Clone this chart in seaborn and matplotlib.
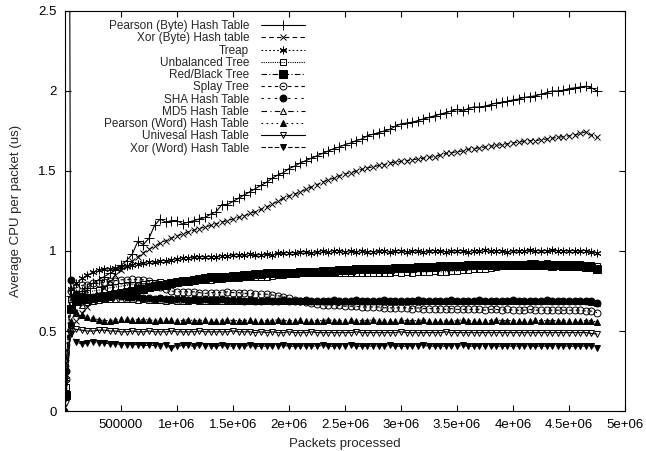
import numpy as np
import pandas as pd
import matplotlib
matplotlib.use("Agg")
import matplotlib.pyplot as plt
import seaborn as sns

# x positions: one early sample, then every 50000 packets
packets = [5000] + list(range(50000, 4750001, 50000))

pearson_byte = [12.0,
    0.72, 0.73, 0.75, 0.77, 0.80, 0.82, 0.84, 0.86, 0.88, 0.91,
    0.94, 0.98, 1.06, 1.04, 1.08, 1.16, 1.20, 1.18, 1.19, 1.19,
    1.17, 1.18, 1.19, 1.20, 1.21, 1.23, 1.245, 1.29, 1.29, 1.31,
    1.33, 1.35, 1.37, 1.39, 1.41, 1.43, 1.455, 1.475, 1.49, 1.515,
    1.53, 1.55, 1.565, 1.58, 1.595, 1.61, 1.625, 1.64, 1.65, 1.665,
    1.675, 1.69, 1.70, 1.72, 1.73, 1.74, 1.75, 1.76, 1.78, 1.795,
    1.80, 1.805, 1.815, 1.825, 1.835, 1.845, 1.855, 1.865, 1.875, 1.885,
    1.875, 1.89, 1.90, 1.90, 1.905, 1.915, 1.925, 1.93, 1.935, 1.945,
    1.95, 1.96, 1.965, 1.97, 1.98, 1.99, 2.00, 2.00, 2.005, 2.015,
    2.02, 2.025, 2.03, 2.02, 2.00]

xor_byte = [0.3,
    0.52, 0.56, 0.61, 0.65, 0.69, 0.73, 0.77, 0.81, 0.85, 0.88,
    0.905, 0.935, 0.965, 0.99, 1.01, 1.03, 1.05, 1.065, 1.08, 1.095,
    1.105, 1.12, 1.13, 1.14, 1.15, 1.16, 1.17, 1.18, 1.19, 1.20,
    1.21, 1.22, 1.235, 1.245, 1.26, 1.275, 1.295, 1.31, 1.33, 1.345,
    1.355, 1.37, 1.385, 1.40, 1.415, 1.43, 1.445, 1.455, 1.47, 1.48,
    1.49, 1.50, 1.51, 1.52, 1.525, 1.535, 1.54, 1.55, 1.555, 1.56,
    1.565, 1.57, 1.575, 1.58, 1.585, 1.59, 1.60, 1.61, 1.615, 1.62,
    1.625, 1.635, 1.64, 1.645, 1.65, 1.655, 1.66, 1.665, 1.67, 1.675,
    1.68, 1.685, 1.69, 1.69, 1.695, 1.70, 1.705, 1.71, 1.715, 1.72,
    1.725, 1.735, 1.745, 1.725, 1.71]

treap = [0.2,
    0.76, 0.80, 0.83, 0.85, 0.87, 0.88, 0.885, 0.89, 0.895, 0.90,
    0.905, 0.915, 0.92, 0.925, 0.93, 0.93, 0.935, 0.94, 0.945, 0.95,
    0.955, 0.955, 0.96, 0.96, 0.965, 0.965, 0.965, 0.97, 0.97, 0.975,
    0.975, 0.975, 0.98, 0.975, 0.975, 0.98, 0.975, 0.985, 0.985, 0.99,
    0.99, 0.995, 0.995, 0.99, 0.995, 1.0, 0.995, 1.0, 1.0, 0.995,
    1.0, 0.995, 1.0, 0.995, 0.995, 1.0, 1.0, 0.995, 1.0, 1.0,
    0.995, 1.0, 1.0, 0.995, 1.0, 1.0, 1.0, 0.995, 1.0, 1.0,
    1.0, 0.995, 1.0, 1.0, 1.005, 1.0, 1.0, 1.0, 0.995, 1.0,
    1.0, 1.0, 1.005, 1.0, 1.0, 1.0, 1.005, 1.0, 1.0, 1.0,
    1.0, 1.0, 1.0, 0.995, 0.985]

unbalanced = [0.15,
    0.70, 0.72, 0.73, 0.74, 0.75, 0.755, 0.76, 0.77, 0.775, 0.78,
    0.785, 0.79, 0.79, 0.795, 0.80, 0.80, 0.805, 0.80, 0.805, 0.81,
    0.81, 0.81, 0.815, 0.82, 0.82, 0.82, 0.825, 0.825, 0.83, 0.83,
    0.83, 0.835, 0.835, 0.84, 0.835, 0.84, 0.845, 0.85, 0.85, 0.855,
    0.855, 0.86, 0.86, 0.865, 0.86, 0.86, 0.865, 0.86, 0.86, 0.865,
    0.86, 0.865, 0.86, 0.865, 0.865, 0.86, 0.865, 0.865, 0.87, 0.865,
    0.87, 0.865, 0.87, 0.87, 0.87, 0.875, 0.87, 0.87, 0.875, 0.875,
    0.88, 0.88, 0.885, 0.89, 0.89, 0.895, 0.90, 0.905, 0.91, 0.91,
    0.915, 0.92, 0.925, 0.925, 0.92, 0.925, 0.92, 0.92, 0.92, 0.92,
    0.92, 0.92, 0.915, 0.915, 0.905]

red_black = [0.1,
    0.64, 0.69, 0.70, 0.70, 0.705, 0.71, 0.715, 0.72, 0.73, 0.735,
    0.745, 0.75, 0.76, 0.765, 0.775, 0.78, 0.785, 0.79, 0.80, 0.805,
    0.81, 0.815, 0.82, 0.825, 0.83, 0.835, 0.835, 0.84, 0.84, 0.845,
    0.845, 0.85, 0.85, 0.855, 0.855, 0.86, 0.86, 0.86, 0.865, 0.865,
    0.865, 0.87, 0.87, 0.87, 0.87, 0.875, 0.875, 0.875, 0.88, 0.88,
    0.88, 0.885, 0.885, 0.885, 0.89, 0.89, 0.89, 0.89, 0.895, 0.895,
    0.895, 0.895, 0.90, 0.90, 0.90, 0.90, 0.905, 0.905, 0.905, 0.905,
    0.905, 0.91, 0.91, 0.91, 0.91, 0.91, 0.91, 0.91, 0.915, 0.91,
    0.91, 0.915, 0.91, 0.91, 0.91, 0.91, 0.905, 0.91, 0.905, 0.905,
    0.905, 0.905, 0.90, 0.90, 0.89]

splay = [0.2,
    0.75, 0.77, 0.785, 0.79, 0.80, 0.80, 0.805, 0.81, 0.815, 0.82,
    0.82, 0.825, 0.82, 0.82, 0.81, 0.79, 0.775, 0.765, 0.75, 0.745,
    0.745, 0.745, 0.745, 0.74, 0.735, 0.74, 0.74, 0.74, 0.745, 0.74,
    0.74, 0.735, 0.735, 0.73, 0.73, 0.73, 0.725, 0.72, 0.715, 0.705,
    0.695, 0.685, 0.68, 0.675, 0.67, 0.665, 0.665, 0.66, 0.66, 0.655,
    0.655, 0.655, 0.65, 0.65, 0.65, 0.65, 0.645, 0.645, 0.645, 0.645,
    0.645, 0.64, 0.645, 0.64, 0.64, 0.64, 0.64, 0.635, 0.64, 0.635,
    0.635, 0.635, 0.635, 0.635, 0.63, 0.635, 0.635, 0.63, 0.635, 0.63,
    0.63, 0.63, 0.635, 0.63, 0.63, 0.63, 0.63, 0.63, 0.63, 0.63,
    0.63, 0.63, 0.625, 0.625, 0.615]

sha = [0.25,
    0.82, 0.73, 0.72, 0.715, 0.71, 0.715, 0.72, 0.72, 0.725, 0.72,
    0.715, 0.71, 0.71, 0.705, 0.705, 0.70, 0.705, 0.70, 0.70, 0.70,
    0.70, 0.695, 0.70, 0.695, 0.70, 0.695, 0.695, 0.70, 0.695, 0.695,
    0.695, 0.69, 0.695, 0.69, 0.69, 0.695, 0.69, 0.69, 0.695, 0.69,
    0.69, 0.69, 0.695, 0.69, 0.69, 0.69, 0.69, 0.695, 0.69, 0.69,
    0.69, 0.695, 0.69, 0.69, 0.69, 0.69, 0.695, 0.69, 0.69, 0.69,
    0.69, 0.69, 0.695, 0.69, 0.69, 0.69, 0.69, 0.69, 0.695, 0.69,
    0.69, 0.69, 0.69, 0.695, 0.69, 0.69, 0.69, 0.69, 0.69, 0.695,
    0.69, 0.69, 0.69, 0.69, 0.69, 0.695, 0.69, 0.69, 0.69, 0.69,
    0.69, 0.69, 0.69, 0.685, 0.675]

md5 = [0.0,
    0.56, 0.62, 0.66, 0.68, 0.69, 0.695, 0.70, 0.70, 0.70, 0.70,
    0.70, 0.70, 0.695, 0.70, 0.695, 0.695, 0.695, 0.69, 0.695, 0.69,
    0.69, 0.69, 0.695, 0.69, 0.69, 0.69, 0.685, 0.69, 0.69, 0.69,
    0.69, 0.685, 0.69, 0.69, 0.685, 0.69, 0.69, 0.685, 0.69, 0.685,
    0.685, 0.69, 0.685, 0.685, 0.69, 0.685, 0.685, 0.685, 0.69, 0.685,
    0.685, 0.685, 0.69, 0.685, 0.685, 0.685, 0.685, 0.69, 0.685, 0.685,
    0.685, 0.685, 0.685, 0.69, 0.685, 0.685, 0.685, 0.685, 0.685, 0.69,
    0.685, 0.685, 0.685, 0.685, 0.685, 0.69, 0.685, 0.685, 0.685, 0.685,
    0.685, 0.685, 0.69, 0.685, 0.685, 0.685, 0.685, 0.685, 0.685, 0.685,
    0.685, 0.685, 0.685, 0.68, 0.675]

pearson_word = [0.0,
    0.55, 0.61, 0.60, 0.59, 0.58, 0.57, 0.565, 0.565, 0.57, 0.575,
    0.575, 0.57, 0.57, 0.57, 0.57, 0.565, 0.57, 0.57, 0.57, 0.565,
    0.565, 0.57, 0.565, 0.565, 0.57, 0.565, 0.565, 0.565, 0.57, 0.565,
    0.565, 0.565, 0.57, 0.565, 0.565, 0.565, 0.565, 0.57, 0.565, 0.565,
    0.565, 0.57, 0.565, 0.565, 0.565, 0.565, 0.57, 0.565, 0.565, 0.565,
    0.57, 0.565, 0.565, 0.565, 0.57, 0.565, 0.565, 0.565, 0.565, 0.57,
    0.565, 0.565, 0.565, 0.57, 0.565, 0.565, 0.565, 0.565, 0.56, 0.565,
    0.57, 0.565, 0.565, 0.565, 0.565, 0.565, 0.57, 0.565, 0.565, 0.565,
    0.565, 0.565, 0.565, 0.57, 0.565, 0.565, 0.565, 0.565, 0.565, 0.565,
    0.565, 0.565, 0.565, 0.565, 0.555]

universal = [0.05,
    0.52, 0.51, 0.505, 0.50, 0.50, 0.505, 0.505, 0.50, 0.50, 0.495,
    0.495, 0.50, 0.495, 0.495, 0.50, 0.495, 0.495, 0.495, 0.50, 0.495,
    0.495, 0.495, 0.495, 0.50, 0.495, 0.495, 0.495, 0.495, 0.495, 0.50,
    0.495, 0.495, 0.495, 0.49, 0.495, 0.49, 0.495, 0.49, 0.49, 0.495,
    0.49, 0.49, 0.49, 0.495, 0.49, 0.49, 0.49, 0.49, 0.49, 0.49,
    0.49, 0.495, 0.49, 0.49, 0.49, 0.49, 0.49, 0.49, 0.49, 0.495,
    0.49, 0.49, 0.49, 0.49, 0.49, 0.49, 0.49, 0.495, 0.49, 0.49,
    0.49, 0.49, 0.49, 0.49, 0.49, 0.49, 0.49, 0.49, 0.49, 0.49,
    0.49, 0.49, 0.49, 0.49, 0.49, 0.49, 0.49, 0.49, 0.49, 0.49,
    0.49, 0.49, 0.49, 0.485, 0.48]

xor_word = [0.1,
    0.48, 0.43, 0.42, 0.425, 0.43, 0.425, 0.425, 0.42, 0.42, 0.415,
    0.415, 0.415, 0.415, 0.41, 0.41, 0.41, 0.405, 0.41, 0.395, 0.405,
    0.41, 0.41, 0.405, 0.41, 0.405, 0.405, 0.405, 0.41, 0.405, 0.405,
    0.405, 0.405, 0.41, 0.405, 0.405, 0.405, 0.405, 0.405, 0.41, 0.405,
    0.405, 0.405, 0.405, 0.405, 0.405, 0.41, 0.405, 0.405, 0.405, 0.405,
    0.41, 0.405, 0.405, 0.405, 0.405, 0.405, 0.405, 0.41, 0.405, 0.405,
    0.405, 0.405, 0.405, 0.41, 0.405, 0.405, 0.405, 0.405, 0.405, 0.405,
    0.41, 0.405, 0.405, 0.405, 0.405, 0.405, 0.405, 0.405, 0.405, 0.405,
    0.405, 0.405, 0.405, 0.405, 0.405, 0.405, 0.405, 0.405, 0.405, 0.405,
    0.405, 0.405, 0.405, 0.405, 0.395]

names = ["Pearson (Byte) Hash Table", "Xor (Byte) Hash table", "Treap",
         "Unbalanced Tree", "Red/Black Tree", "Splay Tree", "SHA Hash Table",
         "MD5 Hash Table", "Pearson (Word) Hash Table", "Univesal Hash Table",
         "Xor (Word) Hash Table"]
series = [pearson_byte, xor_byte, treap, unbalanced, red_black, splay, sha,
          md5, pearson_word, universal, xor_word]

xtick_vals = [500000, 1000000, 1500000, 2000000, 2500000, 3000000, 3500000,
              4000000, 4500000, 5000000]
xtick_labels = ["500000", "1e+06", "1.5e+06", "2e+06", "2.5e+06", "3e+06",
                "3.5e+06", "4e+06", "4.5e+06", "5e+06"]
ytick_vals = [0, 0.5, 1, 1.5, 2, 2.5]
ytick_labels = ["0", "0.5", "1", "1.5", "2", "2.5"]

# gnuplot-ish line/point styles
styles = [
    dict(ls="-", marker="+", ms=6.5, mfc="black"),
    dict(ls=(0, (4, 3)), marker="x", ms=5, mfc="black"),
    dict(ls=(0, (1.5, 2)), marker=(6, 2, 0), ms=5.5, mfc="black"),
    dict(ls=(0, (1, 1)), marker="s", ms=4.5, mfc="none"),
    dict(ls=(0, (5, 2, 1, 2)), marker="s", ms=6, mfc="black"),
    dict(ls=(0, (3, 3)), marker="o", ms=5, mfc="none"),
    dict(ls=(0, (2, 4)), marker="o", ms=5, mfc="black"),
    dict(ls=(0, (5, 3, 1, 3)), marker="^", ms=4.5, mfc="none"),
    dict(ls=(0, (1.5, 3)), marker="^", ms=4.5, mfc="black"),
    dict(ls="-", marker="v", ms=4.5, mfc="none"),
    dict(ls=(0, (4, 2)), marker="v", ms=4.5, mfc="black"),
]

sns.set_style("ticks")
plt.rcParams["font.family"] = ["Liberation Sans", "DejaVu Sans"]

fig = plt.figure(figsize=(6.46, 4.51), dpi=100)
ax = fig.add_axes([65 / 646, 40 / 451, 560 / 646, 400 / 451])

for name, vals, st in zip(names, series, styles):
    df = pd.DataFrame({"packets": packets, "cpu": vals})
    sns.lineplot(data=df, x="packets", y="cpu", ax=ax, color="black",
                 linestyle=st["ls"], marker=st["marker"], markersize=st["ms"],
                 markerfacecolor=st["mfc"], markeredgecolor="black",
                 markeredgewidth=0.7, linewidth=0.8, label=name)

ax.set_xlim(0, 5000000)
ax.set_ylim(0, 2.5)
ax.set_xticks(xtick_vals)
ax.set_xticklabels(xtick_labels)
ax.set_yticks(ytick_vals)
ax.set_yticklabels(ytick_labels)
ax.tick_params(direction="in", top=True, right=True, length=4, width=0.8,
               labelsize=9.5, colors="black", pad=6)
for sp in ax.spines.values():
    sp.set_linewidth(0.8)
    sp.set_color("black")

ax.set_xlabel("Packets processed", fontsize=9.5, labelpad=5)
ax.set_ylabel("Average CPU per packet (us)", fontsize=9.5, labelpad=12)

leg = ax.legend(loc="upper right", bbox_to_anchor=(0.428, 0.977), frameon=False,
                markerfirst=False, fontsize=8.5, handlelength=3.7,
                handletextpad=1.0, labelspacing=0.02, borderpad=0,
                borderaxespad=0, numpoints=1)

fig.savefig("out.png", dpi=100)
